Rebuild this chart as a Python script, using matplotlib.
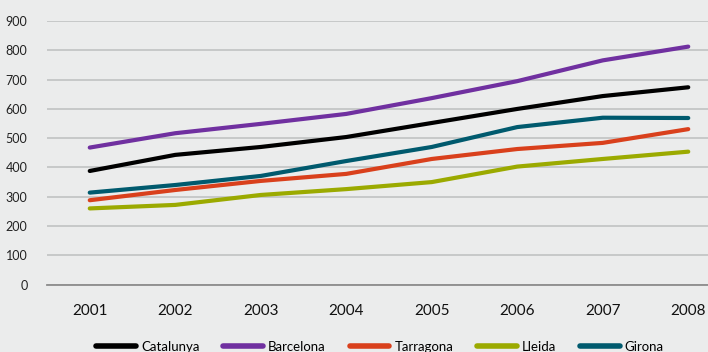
import matplotlib
matplotlib.use("Agg")
import matplotlib.pyplot as plt
from matplotlib.lines import Line2D

years = ["2001", "2002", "2003", "2004", "2005", "2006", "2007", "2008"]
catalunya = [388, 443, 470, 504, 552, 600, 644, 674]
barcelona = [468, 517, 549, 583, 637, 695, 766, 813]
tarragona = [288, 323, 354, 378, 429, 463, 484, 531]
lleida = [260, 272, 306, 326, 350, 403, 429, 454]
girona = [314, 340, 371, 422, 470, 538, 570, 569]
yticks = [0, 100, 200, 300, 400, 500, 600, 700, 800, 900]

series = [
    ("Catalunya", catalunya, "#000000"),
    ("Barcelona", barcelona, "#7030A0"),
    ("Tarragona", tarragona, "#D9401C"),
    ("Lleida", lleida, "#9BAA00"),
    ("Girona", girona, "#005A6E"),
]

plt.rcParams["font.family"] = ["Lato", "DejaVu Sans"]
bg = "#EBECEC"
W, H = 708, 352
fig = plt.figure(figsize=(W / 100, H / 100), dpi=100, facecolor=bg)

# axes box in pixel units: left 47, 0-line at y=285, 900-line at y=21.5
x0, x1 = 47, 731
y_of = lambda v: 284.5 - v * 0.2926
top_px = y_of(900)
bot_px = y_of(0)
ax = fig.add_axes([x0 / W, 1 - bot_px / H, (x1 - x0) / W, (bot_px - top_px) / H])
ax.set_facecolor(bg)
ax.set_xlim(-0.5, len(years) - 0.5)
ax.set_ylim(0, 900)

x = list(range(len(years)))
for name, vals, col in series:
    ax.plot(x, vals, color=col, lw=3.0, solid_capstyle="round",
            solid_joinstyle="round", label=name, zorder=3)

ax.set_yticks(yticks)
ax.set_yticklabels([str(v) for v in yticks], fontsize=9, color="#222222")
ax.set_xticks(x)
ax.set_xticklabels(years, fontsize=11, color="#111111")
ax.tick_params(axis="both", length=0)
ax.tick_params(axis="y", pad=14)
ax.tick_params(axis="x", pad=14)
ax.grid(axis="y", color="#C4C6C6", lw=1.3, zorder=0)
for s in ["top", "right", "left"]:
    ax.spines[s].set_visible(False)
ax.spines["bottom"].set_color("#8C8C8C")
ax.spines["bottom"].set_linewidth(1.3)
ax.spines["bottom"].set_zorder(2)

handles = [Line2D([], [], color=c, lw=4, solid_capstyle="round") for _, _, c in series]
labels = [n for n, _, _ in series]
fig.legend(handles, labels, loc="center", bbox_to_anchor=(380 / W, 1 - 347 / H),
           ncol=5, frameon=False, fontsize=9.5, handlelength=3.0,
           handletextpad=0.4, columnspacing=1.8, borderaxespad=0)

fig.savefig("out.png", dpi=100, facecolor=bg)
